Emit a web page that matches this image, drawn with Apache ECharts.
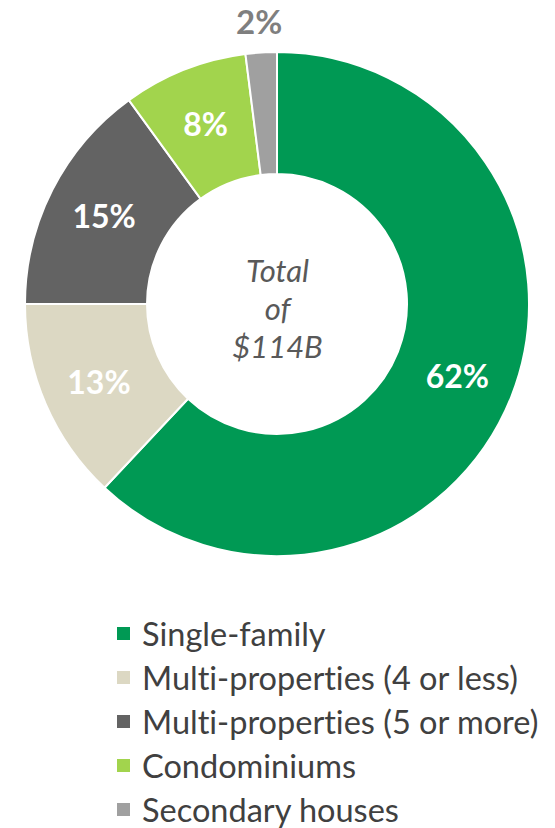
<!DOCTYPE html>
<html>
<head>
<meta charset="utf-8">
<script src="https://cdn.jsdelivr.net/npm/echarts@6/dist/echarts.min.js"></script>
<style>html,body{margin:0;padding:0;background:#fff}#c{width:555px;height:828px}#c text{font-variant-ligatures:none;font-feature-settings:"liga" 0}</style>
</head>
<body>
<div id="c"></div>
<script>
const categories = ['Single-family', 'Multi-properties (4 or less)', 'Multi-properties (5 or more)', 'Condominiums', 'Secondary houses'];
const values = [62, 13, 15, 8, 2];
const colors = ['#009954', '#DCD8C3', '#636363', '#A2D44D', '#A0A0A0'];
const centerText = 'Total\nof\n$114B';
const outsideLabelIndex = 4;

const FONT = 'Lato';
const chart = echarts.init(document.getElementById('c'), null, { renderer: 'svg' });
const mainData = categories.map((n, i) => ({
  name: n, value: values[i],
  itemStyle: { color: colors[i] },
  label: { show: i !== outsideLabelIndex }
}));
const outerData = categories.map((n, i) => ({
  name: n, value: values[i],
  label: { show: i === outsideLabelIndex }
}));
chart.setOption({
  animation: false,
  title: {
    text: centerText, left: 'center', top: 246,
    textStyle: { fontFamily: FONT, fontStyle: 'italic', fontWeight: 'normal', fontSize: 31, lineHeight: 38, color: '#595959' }
  },
  legend: {
    orient: 'vertical', left: 115, top: 617, padding: 0, height: 260,
    icon: 'rect', itemWidth: 15, itemHeight: 15, itemGap: 11,
    data: categories,
    textStyle: { fontFamily: FONT, fontSize: 32.5, lineHeight: 32, color: '#404040', padding: [0, 0, 0, 6] }
  },
  series: [{
    type: 'pie', center: [277, 304], radius: [130, 252],
    startAngle: 90, clockwise: true,
    data: mainData,
    itemStyle: { borderColor: '#fff', borderWidth: 2 },
    label: { position: 'inside', formatter: '{c}%', color: '#fff', fontFamily: FONT, fontWeight: 'bold', fontSize: 32 },
    labelLine: { show: false },
    emphasis: { disabled: true }
  }, {
    type: 'pie', center: [277, 304], radius: [266, 296],
    startAngle: 90, clockwise: true, silent: true,
    data: outerData,
    itemStyle: { color: 'rgba(0,0,0,0)' },
    label: { position: 'inside', formatter: '{c}%', color: '#7F7F7F', fontFamily: FONT, fontWeight: 'bold', fontSize: 33 },
    labelLine: { show: false },
    emphasis: { disabled: true }
  }]
});
</script>
</body>
</html>
